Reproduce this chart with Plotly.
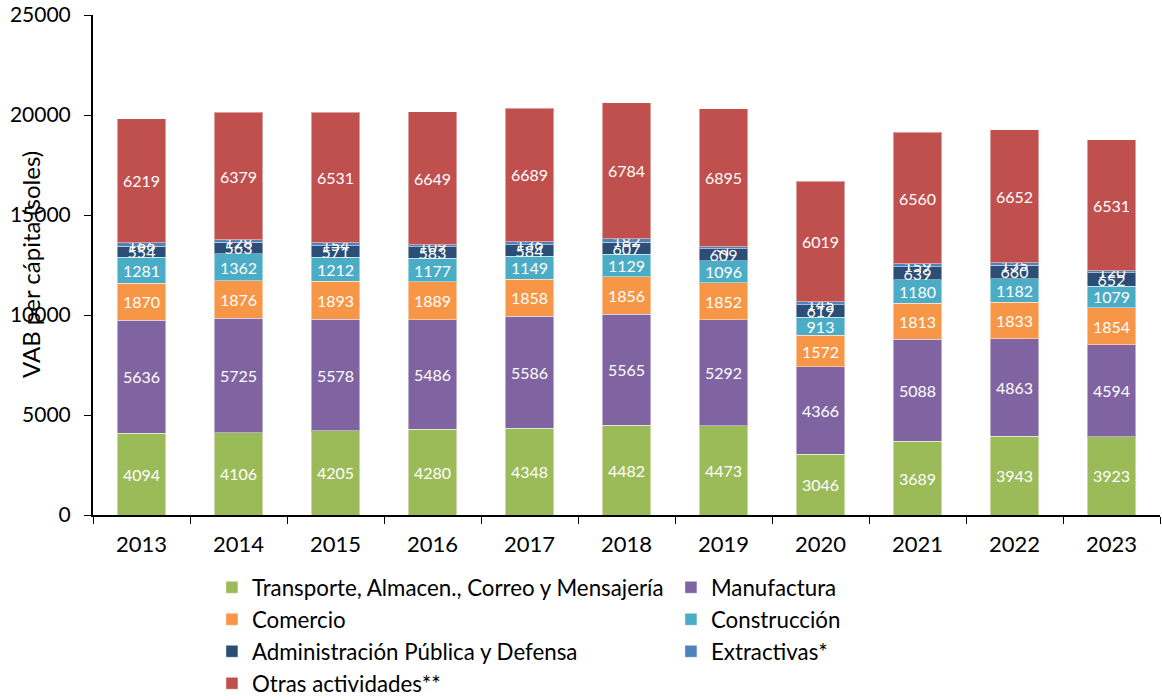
import plotly.graph_objects as go

years = ["2013", "2014", "2015", "2016", "2017", "2018", "2019", "2020", "2021", "2022", "2023"]

transporte = [4094, 4106, 4205, 4280, 4348, 4482, 4473, 3046, 3689, 3943, 3923]
manufactura = [5636, 5725, 5578, 5486, 5586, 5565, 5292, 4366, 5088, 4863, 4594]
comercio = [1870, 1876, 1893, 1889, 1858, 1856, 1852, 1572, 1813, 1833, 1854]
construccion = [1281, 1362, 1212, 1177, 1149, 1129, 1096, 913, 1180, 1182, 1079]
administracion = [554, 563, 571, 583, 584, 607, 609, 619, 639, 660, 652]
extractivas = [166, 128, 154, 109, 136, 182, 97, 145, 159, 135, 120]
otras = [6219, 6379, 6531, 6649, 6689, 6784, 6895, 6019, 6560, 6652, 6531]

series = [
    ("Transporte, Almacen., Correo y Mensajería", transporte, "#9BBB59"),
    ("Manufactura", manufactura, "#8064A2"),
    ("Comercio", comercio, "#F79646"),
    ("Construcción", construccion, "#4BACC6"),
    ("Administración Pública y Defensa", administracion, "#2C4D75"),
    ("Extractivas*", extractivas, "#4F81BD"),
    ("Otras actividades**", otras, "#C0504D"),
]

_FONT = "Lato, 'Open Sans', sans-serif"

fig = go.Figure()

for name, vals, color in series:
    fig.add_trace(
        go.Bar(
            x=years,
            y=vals,
            name=name,
            marker=dict(color=color, line=dict(color="rgba(255,255,255,0.45)", width=1)),
            text=[str(v) for v in vals],
            textposition="inside",
            insidetextanchor="middle",
            textfont=dict(color="white", size=16, family=_FONT),
            hoverinfo="x+y+name",
        )
    )

fig.update_layout(
    barmode="stack",
    bargap=0.505,
    width=1162,
    height=700,
    margin=dict(l=93, r=2, t=15, b=185, autoexpand=False),
    paper_bgcolor="white",
    plot_bgcolor="white",
    font=dict(family=_FONT, size=21, color="black"),
    uniformtext=dict(mode="show", minsize=16),
    legend=dict(
        orientation="h",
        xref="container",
        yref="container",
        x=0.1824,
        xanchor="left",
        y=0.191,
        yanchor="top",
        traceorder="normal",
        entrywidth=414,
        entrywidthmode="pixels",
        font=dict(size=22.3, family=_FONT, color="black"),
        bgcolor="rgba(0,0,0,0)",
    ),
    xaxis=dict(
        type="category",
        automargin=False,
        showline=True,
        linecolor="black",
        linewidth=2,
        ticks="outside",
        tickson="boundaries",
        ticklen=7,
        tickcolor="black",
        showgrid=False,
        ticklabelstandoff=9,
        tickfont=dict(size=22, color="black"),
    ),
    yaxis=dict(
        range=[0, 25000],
        dtick=5000,
        tickformat="d",
        automargin=False,
        showline=True,
        linecolor="black",
        linewidth=2,
        ticks="outside",
        ticklen=7,
        tickcolor="black",
        showgrid=False,
        zeroline=False,
        ticklabelstandoff=9,
        tickfont=dict(size=21, color="black"),
    ),
    annotations=[
        dict(
            text="VAB per cápita (soles)",
            textangle=-90,
            xref="paper",
            yref="paper",
            x=-0.059,
            y=0.5,
            xanchor="center",
            yanchor="middle",
            showarrow=False,
            font=dict(size=24, color="black", family=_FONT),
        )
    ],
)

# drop the browser's default body margin so the figure sits at the window origin
fig.write_html(
    "out.html",
    config={"displayModeBar": False},
    post_script="document.body.style.margin = '0';",
)
